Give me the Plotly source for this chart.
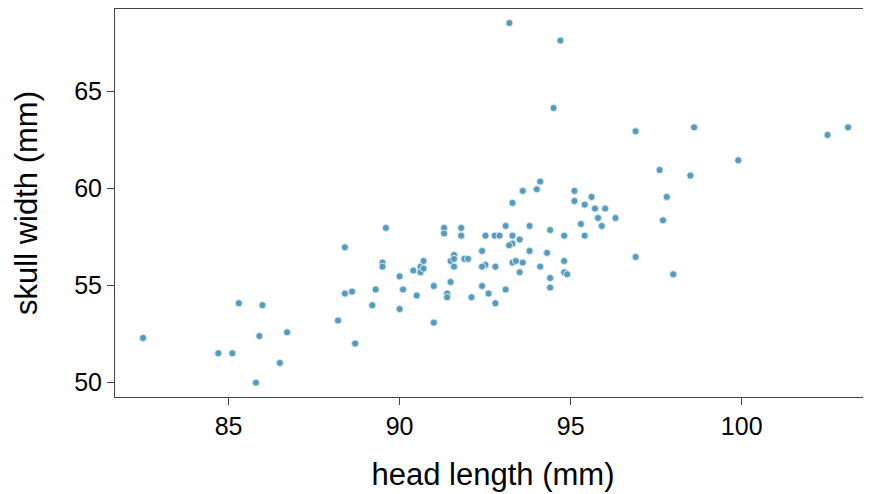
import plotly.graph_objects as go

head_length = [
    93.21, 94.70, 94.50, 96.90, 98.61, 102.51, 103.11, 97.60, 98.50, 99.90,
    94.11, 93.60, 94.01, 95.11, 95.61, 97.81, 93.30, 95.11, 95.41, 95.71,
    96.01, 95.80, 96.31, 95.91, 95.30, 95.41, 97.70, 96.90, 98.00, 93.10,
    93.80, 94.40, 94.81, 92.51, 92.78, 92.92, 93.30, 93.51, 93.30, 93.20,
    92.41, 93.80, 94.31, 94.81, 93.30, 93.40, 93.60, 94.11, 92.51, 92.41,
    92.80, 93.51, 94.81, 94.90, 94.40, 94.40, 92.41, 92.60, 93.10, 92.80,
    82.50, 84.70, 85.11, 85.30, 85.99, 85.90, 86.71, 86.50, 85.80, 88.20,
    88.40, 88.61, 88.40, 88.70, 89.20, 89.30, 89.60, 89.50, 89.50, 90.00,
    90.10, 90.00, 90.40, 90.61, 90.70, 90.61, 90.70, 90.50, 91.00, 91.00,
    91.30, 91.30, 91.80, 91.80, 91.59, 91.49, 91.59, 91.59, 91.89, 92.00,
    91.49, 91.39, 91.39, 92.10,
]
skull_width = [
    68.55, 67.64, 64.16, 62.96, 63.16, 62.77, 63.16, 60.96, 60.67, 61.46,
    60.36, 59.88, 59.96, 59.88, 59.57, 59.57, 59.26, 59.36, 59.17, 58.97,
    58.97, 58.48, 58.48, 58.07, 58.17, 57.57, 58.36, 56.47, 55.58, 58.07,
    58.07, 57.86, 57.57, 57.57, 57.57, 57.57, 57.57, 57.37, 57.16, 57.07,
    56.78, 56.78, 56.68, 56.26, 56.18, 56.26, 56.18, 55.97, 56.06, 55.97,
    55.97, 55.68, 55.68, 55.58, 55.38, 54.89, 54.97, 54.58, 54.79, 54.08,
    52.29, 51.50, 51.50, 54.08, 53.98, 52.39, 52.58, 51.00, 49.98, 53.19,
    54.58, 54.68, 56.97, 52.00, 53.98, 54.79, 57.97, 56.18, 55.97, 55.47,
    54.79, 53.78, 55.77, 55.97, 56.26, 55.68, 55.87, 54.48, 54.97, 53.08,
    57.97, 57.68, 57.97, 57.57, 56.57, 56.26, 56.37, 55.97, 56.37, 56.37,
    55.18, 54.58, 54.39, 54.39,
]
x_ticks = [85, 90, 95, 100]
y_ticks = [50, 55, 60, 65]

FONT = "Liberation Sans, Arial, Helvetica, sans-serif"

fig = go.Figure(
    go.Scatter(
        x=head_length,
        y=skull_width,
        mode="markers",
        marker=dict(size=7, color="#569BBD", line=dict(width=1, color="#d4e7f0")),
        hoverinfo="x+y",
    )
)

axis_common = dict(
    showgrid=False,
    zeroline=False,
    showline=True,
    linecolor="#444444",
    linewidth=1,
    ticks="outside",
    ticklen=7,
    tickcolor="#444444",
    tickwidth=1,
    tickfont=dict(family=FONT, size=25, color="#000000"),
    automargin=False,
)

# The page body adds an 8px offset, so the figure is 8px smaller than the window.
fig.update_layout(
    width=863,
    height=486,
    margin=dict(l=107, r=0, t=1, b=97),
    paper_bgcolor="white",
    plot_bgcolor="white",
    showlegend=False,
    font=dict(family=FONT, color="#000000"),
    xaxis=dict(
        axis_common,
        mirror=True,
        range=[81.68, 103.78],
        tickvals=x_ticks,
        ticktext=[str(v) for v in x_ticks],
        title=dict(text="head length (mm)", font=dict(family=FONT, size=31), standoff=24),
    ),
    yaxis=dict(
        axis_common,
        mirror=False,
        range=[49.24, 69.27],
        tickvals=y_ticks,
        ticktext=[str(v) for v in y_ticks],
        title=dict(text="skull width (mm)", font=dict(family=FONT, size=31), standoff=27),
    ),
)

fig.write_html("out.html")
